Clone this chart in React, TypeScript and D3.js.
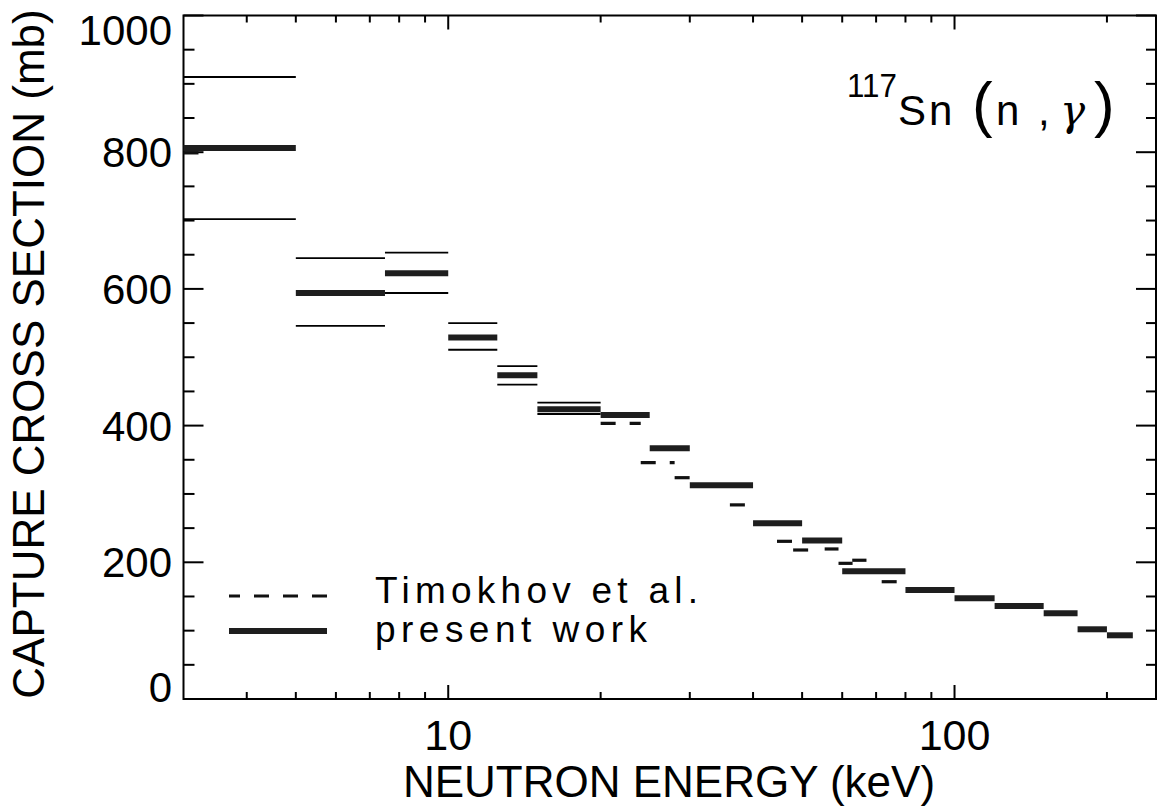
import React from 'react';
import * as d3 from 'd3';

// Energy bins (keV) of the present work
const binEdges = [3, 5, 7.5, 10, 12.5, 15, 20, 25, 30, 40, 50, 60, 80, 100, 120, 150, 175, 200, 225];
// Present work cross sections (mb)
const presentValues = [806, 594, 623, 529, 473.5, 424, 415.5, 367, 312.6, 257, 232, 187, 159.5, 147.3, 136, 125.4, 102, 93.2];
// Uncertainty band lines for the first bins (mb)
const errorUpper = [910, 645, 653, 550, 487, 433.5];
const errorLower = [702, 546, 594, 511, 460, 417];
// Timokhov et al. segments
const timokhovLow = [3.0, 20, 24, 28, 36, 44.6, 48, 55.4, 59, 62.8, 71.8];
const timokhovHigh = [3.28, 24, 28, 30, 40, 48, 51.5, 59, 62.9, 67, 80];
const timokhovValues = [799, 403.4, 345.7, 323.8, 284, 230.7, 218, 219.5, 198.5, 203, 171.6];

const xMinorTicks = [4, 5, 6, 7, 8, 9, 20, 30, 40, 50, 60, 70, 80, 90, 200];
const xMajorTicks = [10, 100];
const xTickLabels = ['10', '100'];
const yMajorTicks = [0, 200, 400, 600, 800, 1000];
const yTickLabels = ['0', '200', '400', '600', '800', '1000'];
const yMinorTicks = [50, 100, 150, 250, 300, 350, 450, 500, 550, 650, 700, 750, 850, 900, 950];

const W = 1160;
const H = 811;
const L = 183.5, R = 1156, T = 15.5, B = 699;

export default function App() {
  const x = d3.scaleLog().domain([3, 250]).range([L, R]);
  const y = d3.scaleLinear().domain([0, 1000]).range([B, T]);
  const font = '"Liberation Sans", Arial, Helvetica, sans-serif';
  const dash = '15 14';

  const bins = presentValues.map((v, i) => ({ x0: binEdges[i], x1: binEdges[i + 1], v }));

  const yLabelY = (v: number) => {
    if (v === 0) return 702;
    if (v === 1000) return 45;
    return y(v) + 15;
  };

  return (
    <svg width={W} height={H} style={{ position: 'absolute', left: 0, top: 0, background: '#fff' }}
      fontFamily={font}>
      <rect x={0} y={0} width={W} height={H} fill="#fff" />
      {/* frame */}
      <rect x={L} y={T} width={R - L} height={B - T} fill="none" stroke="#000" strokeWidth={2} />

      {/* x ticks bottom and top */}
      {xMinorTicks.map((t) => (
        <g key={'xm' + t}>
          <line x1={x(t)} x2={x(t)} y1={B} y2={B - 7} stroke="#000" strokeWidth={2} />
          <line x1={x(t)} x2={x(t)} y1={T} y2={T + 7} stroke="#000" strokeWidth={2} />
        </g>
      ))}
      {xMajorTicks.map((t, i) => (
        <g key={'xM' + t}>
          <line x1={x(t)} x2={x(t)} y1={B} y2={B - 14} stroke="#000" strokeWidth={2} />
          <line x1={x(t)} x2={x(t)} y1={T} y2={T + 14} stroke="#000" strokeWidth={2} />
          <text x={x(t)} y={750} fontSize={43} textAnchor="middle" fill="#000">{xTickLabels[i]}</text>
        </g>
      ))}

      {/* y ticks left and right */}
      {yMinorTicks.map((t) => (
        <g key={'ym' + t}>
          <line x1={L} x2={L + 11} y1={y(t)} y2={y(t)} stroke="#000" strokeWidth={2} />
          <line x1={R} x2={R - 10} y1={y(t)} y2={y(t)} stroke="#000" strokeWidth={2} />
        </g>
      ))}
      {yMajorTicks.map((t, i) => (
        <g key={'yM' + t}>
          <line x1={L} x2={L + 20} y1={y(t)} y2={y(t)} stroke="#000" strokeWidth={2} />
          <line x1={R} x2={R - 20} y1={y(t)} y2={y(t)} stroke="#000" strokeWidth={2} />
          <text x={172} y={yLabelY(t)} fontSize={42} textAnchor="end" fill="#000">{yTickLabels[i]}</text>
        </g>
      ))}

      {/* uncertainty lines */}
      {errorUpper.map((v, i) => (
        <line key={'eu' + i} x1={x(binEdges[i])} x2={x(binEdges[i + 1])} y1={y(v)} y2={y(v)} stroke="#000" strokeWidth={1.8} />
      ))}
      {errorLower.map((v, i) => (
        <line key={'el' + i} x1={x(binEdges[i])} x2={x(binEdges[i + 1])} y1={y(v)} y2={y(v)} stroke="#000" strokeWidth={1.8} />
      ))}

      {/* Timokhov et al. */}
      {timokhovValues.map((v, i) => (
        <line key={'tk' + i} x1={x(timokhovLow[i])} x2={x(timokhovHigh[i])} y1={y(v)} y2={y(v)}
          stroke="#111" strokeWidth={3.2} strokeDasharray={dash} />
      ))}

      {/* present work */}
      {bins.map((b, i) => (
        <line key={'pw' + i} x1={x(b.x0)} x2={x(b.x1)} y1={y(b.v)} y2={y(b.v)} stroke="#1e1e1e" strokeWidth={6} />
      ))}

      {/* legend */}
      <line x1={229} x2={327} y1={596} y2={596} stroke="#111" strokeWidth={3.2} strokeDasharray={dash} strokeDashoffset={4} />
      <line x1={229} x2={327} y1={631} y2={631} stroke="#1e1e1e" strokeWidth={6} />
      <text x={375} y={603} fontSize={37} textLength={323} lengthAdjust="spacing" fill="#000">Timokhov et al.</text>
      <text x={375} y={642} fontSize={37} textLength={272} lengthAdjust="spacing" fill="#000">present work</text>

      {/* reaction label */}
      <text x={847} y={97} fontSize={34} textLength={50} lengthAdjust="spacingAndGlyphs" fill="#000">117</text>
      <text y={125} fontSize={42} fill="#000">
        <tspan x={898}>S</tspan>
        <tspan x={929}>n</tspan>
        <tspan x={972} fontSize={62}>(</tspan>
        <tspan x={996}>n</tspan>
        <tspan x={1038}>,</tspan>
        <tspan x={1060} fontStyle="italic" fontFamily='"DejaVu Serif", serif'>γ</tspan>
        <tspan x={1094} fontSize={62}>)</tspan>
      </text>

      {/* axis titles */}
      <text x={669} y={797} fontSize={44} textAnchor="middle" fill="#000">NEUTRON ENERGY (keV)</text>
      <text transform="translate(44,354) rotate(-90)" fontSize={44} textAnchor="middle" fill="#000">CAPTURE CROSS SECTION (mb)</text>
    </svg>
  );
}
